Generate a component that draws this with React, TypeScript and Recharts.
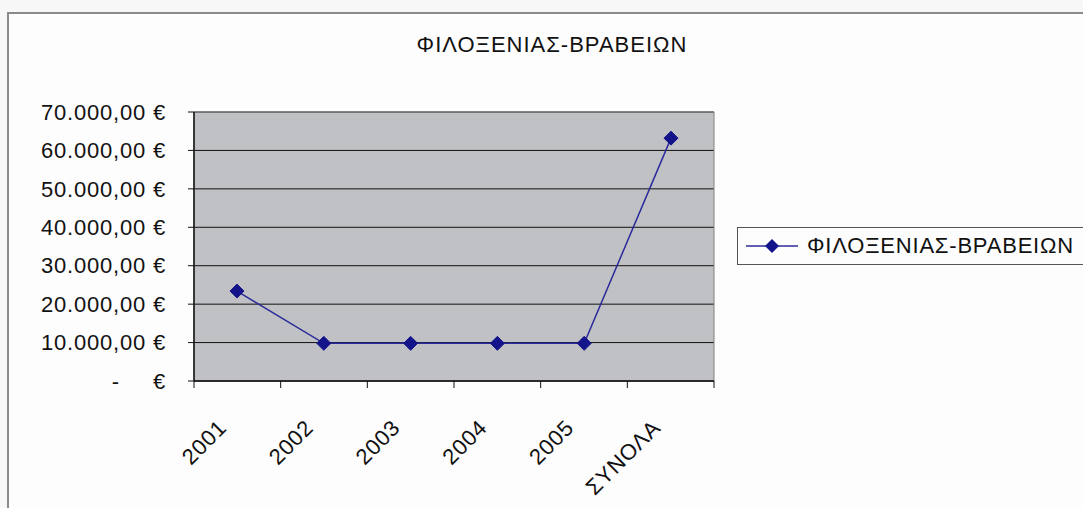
import React from 'react';
import { LineChart, Line, XAxis, YAxis, CartesianGrid, Legend, ReferenceArea } from 'recharts';

const categories = ['2001', '2002', '2003', '2004', '2005', 'ΣΥΝΟΛΑ'];
const values = [23400, 9800, 9800, 9800, 9800, 63200];
const yTicks = [0, 10000, 20000, 30000, 40000, 50000, 60000, 70000];
const edgeTicks = [0, 1, 2, 3, 4, 5, 6];
const seriesName = 'ΦΙΛΟΞΕΝΙΑΣ-ΒΡΑΒΕΙΩΝ';
const title = 'ΦΙΛΟΞΕΝΙΑΣ-ΒΡΑΒΕΙΩΝ';

const data = categories.map((c, i) => ({ cat: c, value: values[i] }));

const FONT = '"Liberation Sans", Arial, sans-serif';
const NAVY = '#14148a';
const LINE = '#2a2a9a';

const fmt = (v: number) => {
  const s = Math.round(v).toString().replace(/\B(?=(\d{3})+(?!\d))/g, '.');
  return `${s},00 €`;
};

const textStyle = { fontFamily: FONT, fontSize: 22, fill: '#111', letterSpacing: 0.8 };

const YTick = (props: any) => {
  const { x, y, payload } = props;
  if (payload.value === 0) {
    return (
      <g>
        <text x={x - 46} y={y} dy="0.35em" textAnchor="end" {...textStyle}>-</text>
        <text x={x} y={y} dy="0.35em" textAnchor="end" {...textStyle}>€</text>
      </g>
    );
  }
  return (
    <text x={x} y={y} dy="0.35em" textAnchor="end" {...textStyle}>{fmt(payload.value)}</text>
  );
};

const XTick = (props: any) => {
  const { x, y, payload } = props;
  const ax = x - 9;
  const ay = y + 47;
  return (
    <text
      x={ax}
      y={ay}
      textAnchor="end"
      transform={`rotate(-45, ${ax}, ${ay})`}
      {...textStyle}
    >
      {payload.value}
    </text>
  );
};

const EmptyTick = () => <g />;

const Diamond = (props: any) => {
  const { cx, cy } = props;
  if (cx == null || cy == null) return null;
  const r = 7;
  return (
    <polygon
      points={`${cx},${cy - r} ${cx + r},${cy} ${cx},${cy + r} ${cx - r},${cy}`}
      fill={NAVY}
      stroke={NAVY}
    />
  );
};

const LegendBox = () => (
  <div
    style={{
      border: '1px solid #555',
      height: 38,
      width: 380,
      boxSizing: 'border-box',
      display: 'flex',
      alignItems: 'center',
      background: '#fdfdfd',
    }}
  >
    <svg width={61} height={20} style={{ marginLeft: 8, flex: 'none' }}>
      <line x1={0} y1={10} x2={52} y2={10} stroke={LINE} strokeWidth={1.5} />
      <polygon points="26,3 33,10 26,17 19,10" fill={NAVY} />
    </svg>
    <span
      style={{
        fontFamily: FONT,
        fontSize: 22,
        letterSpacing: 0.8,
        color: '#111',
        whiteSpace: 'nowrap',
      }}
    >
      {seriesName}
    </span>
  </div>
);

export default function App() {
  return (
    <div
      style={{
        position: 'fixed',
        left: 0,
        top: 0,
        width: 1083,
        height: 508,
        overflow: 'hidden',
        background: '#f7f7f7',
      }}
    >
      <div
        style={{
          position: 'absolute',
          left: 7,
          top: 12,
          width: 1200,
          height: 600,
          borderLeft: '2px solid #8a8a8a',
          borderTop: '2px solid #8a8a8a',
          background: '#fdfdfd',
        }}
      />
      <div
        style={{
          position: 'absolute',
          left: 302,
          width: 500,
          top: 32,
          textAlign: 'center',
          fontFamily: FONT,
          fontSize: 22,
          letterSpacing: 1,
          color: '#111',
          lineHeight: '26px',
        }}
      >
        {title}
      </div>
      <div style={{ position: 'absolute', left: 0, top: 0 }}>
        <LineChart
          width={1083}
          height={508}
          data={data}
          margin={{ top: 112, right: 369, bottom: 36, left: 44 }}
        >
          <CartesianGrid
            xAxisId="bCat"
            vertical={false}
            stroke="#111"
            strokeWidth={1}
            fill="#c0c1c5"
            fillOpacity={1}
          />
          <XAxis
            xAxisId="aEdge"
            dataKey="cat"
            type="number"
            domain={[0, 6]}
            ticks={edgeTicks}
            interval={0}
            allowDataOverflow
            height={1}
            tick={<EmptyTick />}
            tickSize={7}
            axisLine={{ stroke: '#111', strokeWidth: 1.5 }}
            tickLine={{ stroke: '#111', strokeWidth: 1 }}
          />
          <XAxis
            xAxisId="bCat"
            dataKey="cat"
            type="category"
            interval={0}
            height={90}
            padding={{ left: 43, right: 43 }}
            axisLine={false}
            tickLine={false}
            tickSize={0}
            tickMargin={0}
            tick={<XTick />}
          />
          <YAxis
            width={150}
            domain={[0, 70000]}
            ticks={yTicks}
            interval={0}
            tickSize={6}
            tickMargin={22}
            axisLine={{ stroke: '#111', strokeWidth: 1.5 }}
            tickLine={{ stroke: '#111' }}
            tick={<YTick />}
          />
          <ReferenceArea
            xAxisId="aEdge"
            x1={0}
            x2={6}
            y1={0}
            y2={70000}
            fill="none"
            stroke="#808080"
            strokeWidth={1}
            ifOverflow="visible"
          />
          <Line
            xAxisId="bCat"
            type="linear"
            dataKey="value"
            name={seriesName}
            stroke={LINE}
            strokeWidth={1.5}
            dot={<Diamond />}
            activeDot={false}
            isAnimationActive={false}
          />
          <Legend
            layout="vertical"
            align="center"
            verticalAlign="middle"
            content={<LegendBox />}
            wrapperStyle={{ left: 737, top: 227, width: 380 }}
          />
        </LineChart>
      </div>
    </div>
  );
}
